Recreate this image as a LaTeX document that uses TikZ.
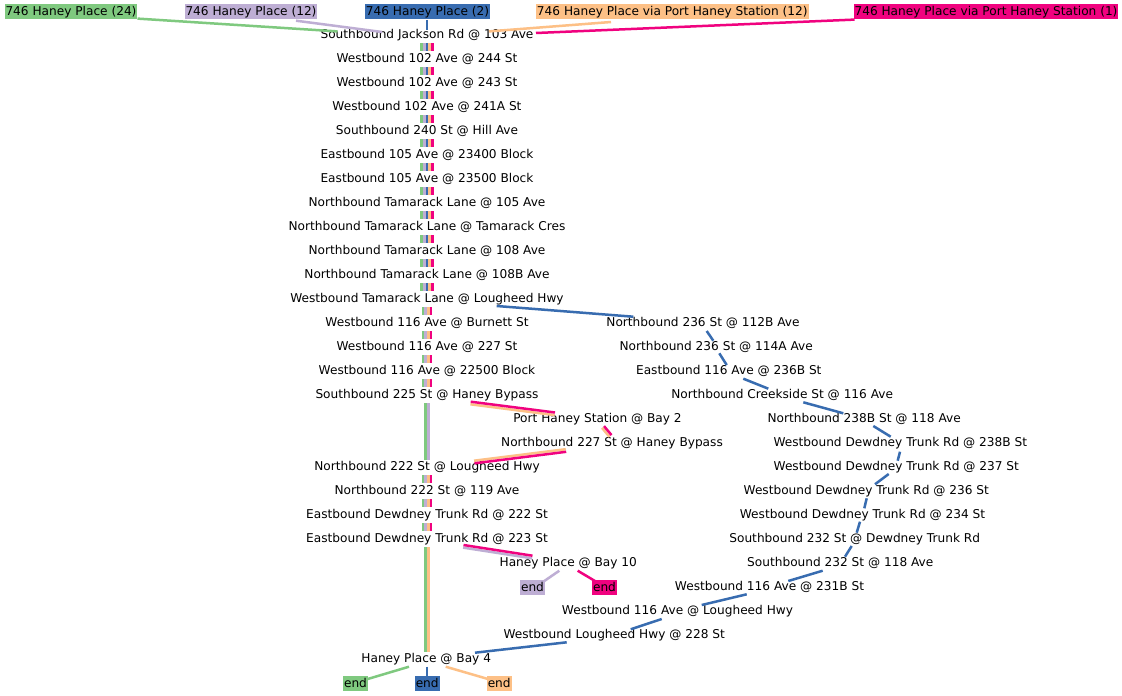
\documentclass[tikz,border=0pt]{standalone}
\usepackage{fontspec}
\setmainfont{DejaVu Sans}
\usetikzlibrary{calc}
\definecolor{cg}{HTML}{7FC97F}
\definecolor{cl}{HTML}{BEAED4}
\definecolor{co}{HTML}{FDC086}
\definecolor{cb}{HTML}{386CB0}
\definecolor{cp}{HTML}{F0027F}
\newcommand\myedge[5]{\draw[#1] ($(#2)+(#3)$) -- ($(#4)+(#5)$);}
\begin{document}
\begin{tikzpicture}[x=1pt,y=-1pt,
  stop/.style={inner sep=0pt, text height=11pt, text depth=2pt, font=\fontsize{12.15}{14}\selectfont},
  lab/.style={inner sep=0pt, font=\fontsize{12.15}{14}\selectfont, inner xsep=1pt, inner ysep=1.45pt, text height=10.5pt, text depth=1.9pt},
  ln/.style={line width=2.5pt},
  bar/.style={line width=2.6pt},
]
\fill[white] (0,0) rectangle (1122,696);
\useasboundingbox (0,0) rectangle (1122,696);

% route labels
\node[lab,fill=cg] (rg) at (71,11.7) {746 Haney Place (24)};
\node[lab,fill=cl] (rl) at (251,11.7) {746 Haney Place (12)};
\node[lab,fill=cb] (rb) at (427.5,11.7) {746 Haney Place (2)};
\node[lab,fill=co] (ro) at (672.3,11.7) {746 Haney Place via Port Haney Station (12)};
\node[lab,fill=cp] (rp) at (986,11.7) {746 Haney Place via Port Haney Station (1)};

% main column
\node[stop] (j0) at (427,34) {Southbound Jackson Rd @ 103 Ave};
\node[stop] (j1) at (427,58) {Westbound 102 Ave @ 244 St};
\node[stop] (j2) at (427,82) {Westbound 102 Ave @ 243 St};
\node[stop] (j3) at (427,106) {Westbound 102 Ave @ 241A St};
\node[stop] (j4) at (427,130) {Southbound 240 St @ Hill Ave};
\node[stop] (j5) at (427,154) {Eastbound 105 Ave @ 23400 Block};
\node[stop] (j6) at (427,178) {Eastbound 105 Ave @ 23500 Block};
\node[stop] (j7) at (427,202) {Northbound Tamarack Lane @ 105 Ave};
\node[stop] (j8) at (427,226) {Northbound Tamarack Lane @ Tamarack Cres};
\node[stop] (j9) at (427,250) {Northbound Tamarack Lane @ 108 Ave};
\node[stop] (j10) at (427,274) {Northbound Tamarack Lane @ 108B Ave};
\node[stop] (j11) at (427,298) {Westbound Tamarack Lane @ Lougheed Hwy};
\node[stop] (j12) at (427,322) {Westbound 116 Ave @ Burnett St};
\node[stop] (j13) at (427,346) {Westbound 116 Ave @ 227 St};
\node[stop] (j14) at (427,370) {Westbound 116 Ave @ 22500 Block};
\node[stop] (j15) at (427,394) {Southbound 225 St @ Haney Bypass};
\node[stop] (phs) at (597.5,418) {Port Haney Station @ Bay 2};
\node[stop] (n227) at (612,442) {Northbound 227 St @ Haney Bypass};
\node[stop] (j16) at (427,466) {Northbound 222 St @ Lougheed Hwy};
\node[stop] (j17) at (427,490) {Northbound 222 St @ 119 Ave};
\node[stop] (j18) at (427,514) {Eastbound Dewdney Trunk Rd @ 222 St};
\node[stop] (j19) at (427,538) {Eastbound Dewdney Trunk Rd @ 223 St};
\node[stop] (bay10) at (568.3,562) {Haney Place @ Bay 10};
\node[stop] (bay4) at (426.2,658) {Haney Place @ Bay 4};

% blue branch
\node[stop] (n1) at (703,322) {Northbound 236 St @ 112B Ave};
\node[stop] (n2) at (716.2,346) {Northbound 236 St @ 114A Ave};
\node[stop] (n3) at (728.8,370) {Eastbound 116 Ave @ 236B St};
\node[stop] (n4) at (782.2,394) {Northbound Creekside St @ 116 Ave};
\node[stop] (n5) at (864.2,418) {Northbound 238B St @ 118 Ave};
\node[stop] (n6) at (900.3,442) {Westbound Dewdney Trunk Rd @ 238B St};
\node[stop] (n7) at (896.3,466) {Westbound Dewdney Trunk Rd @ 237 St};
\node[stop] (n8) at (866.3,490) {Westbound Dewdney Trunk Rd @ 236 St};
\node[stop] (n9) at (862.5,514) {Westbound Dewdney Trunk Rd @ 234 St};
\node[stop] (n10) at (854.7,538) {Southbound 232 St @ Dewdney Trunk Rd};
\node[stop] (n11) at (840.3,562) {Southbound 232 St @ 118 Ave};
\node[stop] (n12) at (769.5,586) {Westbound 116 Ave @ 231B St};
\node[stop] (n13) at (677.5,610) {Westbound 116 Ave @ Lougheed Hwy};
\node[stop] (n14) at (614.2,634) {Westbound Lougheed Hwy @ 228 St};

% end markers
\node[lab,fill=cl] (el) at (532.5,587.5) {end};
\node[lab,fill=cp] (ep) at (604.5,587.5) {end};
\node[lab,fill=cg] (eg) at (355.5,683.5) {end};
\node[lab,fill=cb] (eb) at (427.2,683.5) {end};
\node[lab,fill=co] (eo) at (499.2,683.5) {end};

% route labels to first stop
\myedge{ln,cg}{rg}{66.5,6.9}{j0}{-89.5,-2.6}
\myedge{ln,cl}{rl}{45,9}{j0}{-45,-2}
\myedge{ln,cb}{rb}{-0.5,8.3}{j0}{0,-4}
\myedge{ln,co}{ro}{-61.3,10.3}{j0}{62,-2.6}
\myedge{ln,cp}{rp}{-131.5,7.9}{j0}{109,-1}

% five-route trunk
\foreach \a/\b in {j0/j1,j1/j2,j2/j3,j3/j4,j4/j5,j5/j6,j6/j7,j7/j8,j8/j9,j9/j10,j10/j11}{
  \foreach \c/\dx in {cg/-5.4,cl/-2.7,cb/0,co/2.7,cp/5.4}{
    \draw[bar,color=\c] ($(\a)+(\dx,9)$) -- ($(\b)+(\dx,-7.5)$);
  }
}
% four-route trunk
\foreach \a/\b in {j11/j12,j12/j13,j13/j14,j14/j15,j16/j17,j17/j18,j18/j19}{
  \foreach \c/\dx in {cg/-4.1,cl/-1.4,co/1.4,cp/4.1}{
    \draw[bar,color=\c] ($(\a)+(\dx,9)$) -- ($(\b)+(\dx,-7.5)$);
  }
}
% two-route trunks
\foreach \c/\dx in {cg/-1.35,cl/1.35}{
  \draw[bar,color=\c] ($(j15)+(\dx,9)$) -- ($(j16)+(\dx,-6)$);
}
\foreach \c/\dx in {cg/-1.35,co/1.35}{
  \draw[bar,color=\c] ($(j19)+(\dx,9)$) -- ($(bay4)+(\dx+0.8,-6.3)$);
}

% Port Haney Station loop (orange + pink)
\myedge{ln,co}{j15}{43.4,10.3}{phs}{-42.8,-2.9}
\myedge{ln,cp}{j15}{43.7,7.7}{phs}{-42.5,-5.5}
\myedge{ln,co}{phs}{4.5,9.9}{n227}{-2.5,-5.1}
\myedge{ln,cp}{phs}{6.5,8.1}{n227}{-0.5,-6.9}
\myedge{ln,co}{n227}{-46.2,7.2}{j16}{47.1,-5.3}
\myedge{ln,cp}{n227}{-45.8,9.8}{j16}{47.5,-2.7}

% Bay 10 (lavender + pink)
\myedge{ln,cl}{j19}{36.1,9.6}{bay10}{-36.2,-3.7}
\myedge{ln,cp}{j19}{36.5,7}{bay10}{-35.8,-6.3}
\myedge{ln,cl}{bay10}{-9,8.7}{el}{10.8,-5.8}
\myedge{ln,cp}{bay10}{9.4,8.7}{ep}{-9.5,-6.5}

% blue branch
\myedge{ln,cb}{j11}{69.7,8}{n1}{-69.7,-5.3}
\myedge{ln,cb}{n1}{3.7,9}{n2}{-2.9,-5.3}
\myedge{ln,cb}{n2}{3.1,7.3}{n3}{-2.1,-5}
\myedge{ln,cb}{n3}{14.5,8.7}{n4}{-13.9,-5.3}
\myedge{ln,cb}{n4}{21.1,8.3}{n5}{-20.9,-4.7}
\myedge{ln,cb}{n5}{9.1,8}{n6}{-9.6,-5.3}
\myedge{ln,cb}{n6}{-0.3,9.7}{n7}{1.4,-5.3}
\myedge{ln,cb}{n7}{-7.6,8}{n8}{8.7,-5.7}
\myedge{ln,cb}{n8}{0.4,8.3}{n9}{1.8,-5.7}
\myedge{ln,cb}{n9}{-2.5,7.7}{n10}{2,-5.3}
\myedge{ln,cb}{n10}{-3,8}{n11}{4.7,-5.3}
\myedge{ln,cb}{n11}{-17.6,8.7}{n12}{18.8,-5}
\myedge{ln,cb}{n12}{-22.8,8.3}{n13}{24.2,-5}
\myedge{ln,cb}{n13}{-15.8,9}{n14}{16.5,-4.7}
\myedge{ln,cb}{n14}{-47.5,8.3}{bay4}{48.8,-5.3}

% Bay 4 ends
\myedge{ln,cg}{bay4}{-17.2,8.7}{eg}{11.2,-4.2}
\myedge{ln,cb}{bay4}{1,8.7}{eb}{0,-6.2}
\myedge{ln,co}{bay4}{19.5,8.7}{eo}{-11.2,-4.5}
\end{tikzpicture}
\end{document}
